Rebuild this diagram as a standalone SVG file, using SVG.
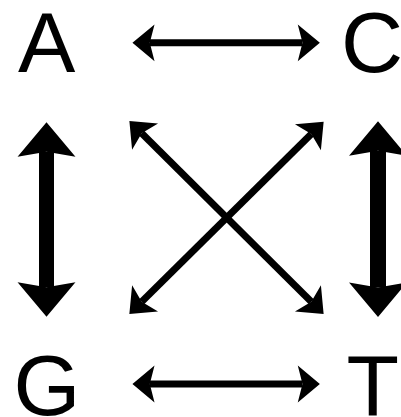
<svg xmlns="http://www.w3.org/2000/svg" width="401" height="417" viewBox="0 0 401 417">
  <style>
    .lbl { font-family: "Liberation Sans", Arial, sans-serif; font-size: 86px; fill: #000; }
    .thin { stroke: #000; stroke-width: 7; fill: none; marker-start: url(#headS); marker-end: url(#headS); }
    .thick { stroke: #000; fill: none; marker-start: url(#headL); marker-end: url(#headL); }
  </style>
  <defs>
    <marker id="headS" markerUnits="userSpaceOnUse" markerWidth="40" markerHeight="40" viewBox="-6 -19 24 38" refX="0" refY="0" orient="auto-start-reverse" overflow="visible">
      <path d="M16.5,0 L-4.5,-17.5 L0,0 L-4.5,17.5 Z" fill="#000"/>
    </marker>
    <marker id="headL" markerUnits="userSpaceOnUse" markerWidth="60" markerHeight="60" viewBox="-6 -29 36 58" refX="0" refY="0" orient="auto-start-reverse" overflow="visible">
      <path d="M28.4,0 L-5,-28 L0,0 L-5,28 Z" fill="#000"/>
    </marker>
  </defs>
  <g id="node-A"><text class="lbl" x="18" y="71.5">A</text></g>
  <g id="node-C"><text class="lbl" x="341" y="71.5">C</text></g>
  <g id="node-G"><text class="lbl" x="13.5" y="415">G</text></g>
  <g id="node-T"><text class="lbl" x="346.5" y="415">T</text></g>
  <g id="connectors">
    <line class="thin" x1="149.8" y1="42.8" x2="302.5" y2="42.8"/>
    <line class="thin" x1="149.8" y1="384" x2="302.5" y2="384"/>
    <line class="thick" stroke-width="15" x1="46.5" y1="151.7" x2="46.5" y2="287.3"/>
    <line class="thick" stroke-width="16" x1="378" y1="150.7" x2="378" y2="287.6"/>
    <line class="thin" x1="141.7" y1="133.3" x2="311.3" y2="301.7"/>
    <line class="thin" x1="311.3" y1="133.9" x2="141.7" y2="301.7"/>
  </g>
</svg>
